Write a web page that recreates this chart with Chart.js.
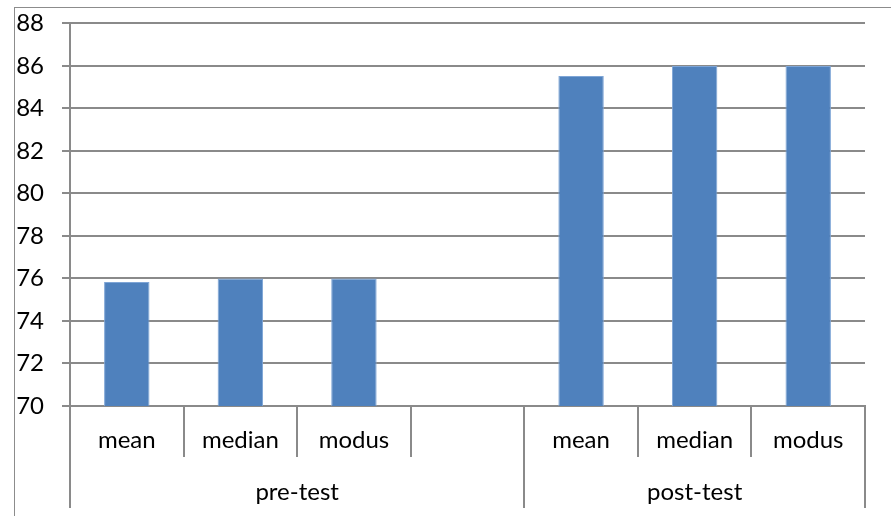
<!DOCTYPE html>
<html>
<head>
<meta charset="utf-8">
<script src="https://cdn.jsdelivr.net/npm/chart.js@4/dist/chart.umd.min.js"></script>
<style>
    html, body { margin: 0; padding: 0; background: #fff; overflow: hidden; }
    #frame {
        position: absolute; left: 14px; top: 7px;
        width: 900px; height: 520px;
        border-left: 1px solid #8c8c8c; border-top: 1px solid #8c8c8c;
    }
    #wrap { position: absolute; left: 0; top: -17px; width: 876px; height: 517px; }
</style>
</head>
<body>
<div id="frame"><div id="wrap"><canvas id="scoreChart"></canvas></div></div>
<script>
// categories along the axis (empty slot separates the two groups)
const categories = ['mean', 'median', 'modus', '', 'mean', 'median', 'modus'];
const groups = ['pre-test', 'post-test'];
const groupSpans = [[0, 3], [4, 6]];
const scores = [75.83, 76, 76, null, 85.53, 86, 86];
const yTicks = [70, 72, 74, 76, 78, 80, 82, 84, 86, 88];

const FONT = 'Lato, "Open Sans", sans-serif';
const GRID = '#8a8a8a';

// second row of the axis: group names and their long separators
const groupLabels = {
    id: 'groupLabels',
    afterDraw(chart) {
        const ctx = chart.ctx;
        const x = chart.scales.x;
        const half = (x.getPixelForValue(1) - x.getPixelForValue(0)) / 2;
        const top = x.top + 51;
        const bottom = x.top + 102;
        ctx.save();
        ctx.strokeStyle = GRID;
        ctx.lineWidth = 2;
        ctx.fillStyle = '#000';
        ctx.font = '24px ' + FONT;
        ctx.textAlign = 'center';
        ctx.textBaseline = 'middle';
        const edges = new Set();
        groupSpans.forEach(function(span, i) {
            const left = x.getPixelForValue(span[0]) - half;
            const right = x.getPixelForValue(span[1]) + half;
            edges.add(Math.round(left));
            edges.add(Math.round(right));
            ctx.fillText(groups[i], (left + right) / 2, top + 35);
        });
        edges.forEach(function(px) {
            ctx.beginPath();
            ctx.moveTo(px, top - 1);
            ctx.lineTo(px, bottom);
            ctx.stroke();
        });
        ctx.restore();
    }
};

new Chart(document.getElementById('scoreChart'), {
    type: 'bar',
    data: {
        labels: categories,
        datasets: [{
            data: scores,
            backgroundColor: '#4f81bd',
            borderColor: '#7ea5d6',
            borderWidth: 1,
            barPercentage: 0.4,
            categoryPercentage: 1
        }]
    },
    options: {
        responsive: true,
        maintainAspectRatio: false,
        animation: false,
        layout: { padding: { top: 15, right: 26, bottom: 0, left: 0 } },
        plugins: { legend: { display: false }, tooltip: { enabled: false } },
        scales: {
            x: {
                grid: {
                    offset: true,
                    drawOnChartArea: false,
                    color: GRID,
                    lineWidth: 2,
                    tickLength: 51
                },
                border: { color: GRID, width: 2 },
                ticks: {
                    color: '#000',
                    font: { family: FONT, size: 24 },
                    padding: -31,
                    maxRotation: 0,
                    autoSkip: false
                },
                afterFit(scale) { scale.height = 102; }
            },
            y: {
                min: 70,
                max: 88,
                afterBuildTicks(scale) {
                    scale.ticks = yTicks.map(function(v) { return { value: v }; });
                },
                grid: { color: GRID, lineWidth: 2, tickLength: 8 },
                border: { color: GRID, width: 2 },
                ticks: {
                    color: '#000',
                    font: { family: FONT, size: 24 },
                    padding: 18
                },
                afterFit(scale) { scale.width = 55; }
            }
        }
    },
    plugins: [groupLabels]
});
</script>
</body>
</html>
